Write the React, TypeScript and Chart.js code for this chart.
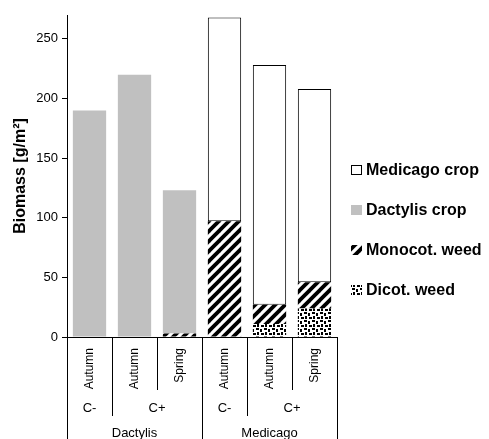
import { useEffect, useRef } from 'react';
import { Chart, registerables } from 'chart.js';

Chart.register(...registerables);

// ---- data ----
const seasons = ['Autumn', 'Autumn', 'Spring', 'Autumn', 'Autumn', 'Spring'];
const controls = ['C-', 'C+', 'C+', 'C-', 'C+', 'C+'];
const species = ['Dactylis', 'Dactylis', 'Dactylis', 'Medicago', 'Medicago', 'Medicago'];

const dicotWeed = [0, 0, 0, 0, 11, 24];
const monocotWeed = [0, 0, 3, 97, 16, 22];
const dactylisCrop = [190, 220, 120, null, null, null];
const medicagoCrop = [null, null, null, 171, 201, 162];

const yTicks = { min: 0, max: 270, step: 50 };
const yTitle = 'Biomass [g/m²]';

const FONT = "'Liberation Sans', Arial, sans-serif";

function makeStripes(): CanvasPattern | string {
  const c = document.createElement('canvas');
  const s = 10;
  c.width = s;
  c.height = s;
  const g = c.getContext('2d');
  if (!g) return '#000';
  g.fillStyle = '#fff';
  g.fillRect(0, 0, s, s);
  g.strokeStyle = '#000';
  g.lineWidth = 3.8;
  for (const o of [-s, 0, s]) {
    g.beginPath();
    g.moveTo(o - s, 2 * s);
    g.lineTo(o + 2 * s, -s);
    g.stroke();
  }
  return g.createPattern(c, 'repeat') || '#000';
}

function makeConfetti(): CanvasPattern | string {
  const c = document.createElement('canvas');
  const s = 8;
  c.width = s;
  c.height = s;
  const g = c.getContext('2d');
  if (!g) return '#888';
  g.fillStyle = '#fff';
  g.fillRect(0, 0, s, s);
  g.fillStyle = '#000';
  const dots = [
    [0, 0, 3, 2],
    [4, 1, 2, 3],
    [1, 4, 2, 3],
    [5, 5, 3, 2],
  ];
  for (const [x, y, w, h] of dots) g.fillRect(x, y, w, h);
  return g.createPattern(c, 'repeat') || '#888';
}

const categoryAxisPlugin = {
  id: 'categoryAxisLabels',
  afterDraw(chart: any) {
    const { ctx, chartArea, scales } = chart;
    const xs = scales.x;
    const n = seasons.length;
    const cx = (i: number) => xs.getPixelForValue(i);
    const half = (cx(1) - cx(0)) / 2;
    const b = chartArea.bottom;
    const d1 = b + 53;
    const d2 = b + 79;
    const d3 = chart.height;
    ctx.save();
    ctx.strokeStyle = '#000';
    ctx.lineWidth = 1;
    for (let i = 0; i <= n; i++) {
      let depth = d1;
      if (i === 0 || i === n || species[i] !== species[i - 1]) depth = d3;
      else if (controls[i] !== controls[i - 1]) depth = d2;
      const xr = i === n ? cx(n - 1) + half : cx(i) - half;
      const x = Math.floor(xr) + 0.5;
      ctx.beginPath();
      ctx.moveTo(x, b);
      ctx.lineTo(x, depth);
      ctx.stroke();
    }
    ctx.fillStyle = '#000';
    // level 1 (rotated)
    ctx.font = `12px ${FONT}`;
    ctx.textAlign = 'right';
    ctx.textBaseline = 'middle';
    for (let i = 0; i < n; i++) {
      ctx.save();
      ctx.translate(cx(i) + 0.5, b + 11);
      ctx.rotate(-Math.PI / 2);
      ctx.fillText(seasons[i], 0, 0);
      ctx.restore();
    }
    // level 2 and 3
    ctx.font = `13px ${FONT}`;
    ctx.textAlign = 'center';
    const drawGroups = (key: (i: number) => string, label: (i: number) => string, y: number) => {
      let start = 0;
      for (let i = 1; i <= n; i++) {
        if (i === n || key(i) !== key(start)) {
          const center = (cx(start) + cx(i - 1)) / 2;
          ctx.fillText(label(start), center, y);
          start = i;
        }
      }
    };
    drawGroups((i) => species[i] + controls[i], (i) => controls[i], b + 71);
    drawGroups((i) => species[i], (i) => species[i], b + 96);
    ctx.restore();
  },
};

const legendPlugin = {
  id: 'sideLegend',
  afterDraw(chart: any) {
    const { ctx, chartArea } = chart;
    const ds = chart.data.datasets;
    const left = chartArea.right + 14;
    ctx.save();
    ctx.font = `bold 16px ${FONT}`;
    ctx.textAlign = 'left';
    ctx.textBaseline = 'middle';
    let k = 0;
    for (let i = ds.length - 1; i >= 0; i--) {
      const d = ds[i];
      const y = 170 + 40 * k;
      ctx.fillStyle = d.backgroundColor;
      ctx.fillRect(left, y - 5, 11, 10);
      if (d.borderWidth) {
        ctx.strokeStyle = d.borderColor;
        ctx.lineWidth = 1;
        ctx.strokeRect(left + 0.5, y - 4.5, 10, 9);
      }
      ctx.fillStyle = '#000';
      ctx.fillText(d.label, left + 15, y + 1);
      k++;
    }
    ctx.restore();
  },
};

export default function App() {
  const ref = useRef<HTMLCanvasElement | null>(null);

  useEffect(() => {
    if (!ref.current) return;
    const stripes = makeStripes();
    const confetti = makeConfetti();
    const chart = new Chart(ref.current, {
      type: 'bar',
      data: {
        labels: seasons,
        datasets: [
          {
            label: 'Dicot. weed',
            data: dicotWeed,
            backgroundColor: confetti as any,
            borderWidth: 0,
          },
          {
            label: 'Monocot. weed',
            data: monocotWeed,
            backgroundColor: stripes as any,
            borderWidth: 0,
          },
          {
            label: 'Dactylis crop',
            data: dactylisCrop as any,
            backgroundColor: '#c0c0c0',
            borderWidth: 0,
          },
          {
            label: 'Medicago crop',
            data: medicagoCrop as any,
            backgroundColor: '#ffffff',
            borderColor: '#000000',
            borderWidth: 1,
            borderSkipped: false,
          },
        ],
      },
      options: {
        responsive: false,
        animation: false,
        devicePixelRatio: 1,
        datasets: {
          bar: {
            categoryPercentage: 1,
            barPercentage: 0.74,
          },
        },
        layout: { padding: { top: 15, right: 152, left: 0, bottom: 0 } },
        plugins: {
          legend: { display: false },
          tooltip: { enabled: false },
        },
        scales: {
          x: {
            stacked: true,
            offset: true,
            grid: { display: false },
            border: { display: true, color: '#000', width: 1 },
            ticks: { display: false },
            afterFit: (s: any) => {
              s.height = 102;
            },
          },
          y: {
            stacked: true,
            min: yTicks.min,
            max: yTicks.max,
            bounds: 'data',
            ticks: {
              stepSize: yTicks.step,
              color: '#000',
              padding: 4,
              font: { family: FONT, size: 13 },
            },
            afterBuildTicks: (s: any) => {
              s.ticks = s.ticks.filter((t: any) => t.value % yTicks.step === 0);
            },
            grid: {
              display: true,
              drawOnChartArea: false,
              drawTicks: true,
              tickLength: 5,
              tickColor: '#000',
              color: '#000',
            },
            border: { display: true, color: '#000', width: 1 },
            title: {
              display: true,
              text: yTitle,
              color: '#000',
              font: { family: FONT, size: 16, weight: 'bold' },
              padding: { top: 11, bottom: 0 },
            },
            afterFit: (s: any) => {
              s.width = 67;
            },
          },
        },
      } as any,
      plugins: [categoryAxisPlugin, legendPlugin],
    });
    return () => chart.destroy();
  }, []);

  return (
    <div style={{ position: 'fixed', left: 0, top: 0, width: 489, height: 439, background: '#fff' }}>
      <canvas ref={ref} width={489} height={439} style={{ display: 'block' }} />
    </div>
  );
}
